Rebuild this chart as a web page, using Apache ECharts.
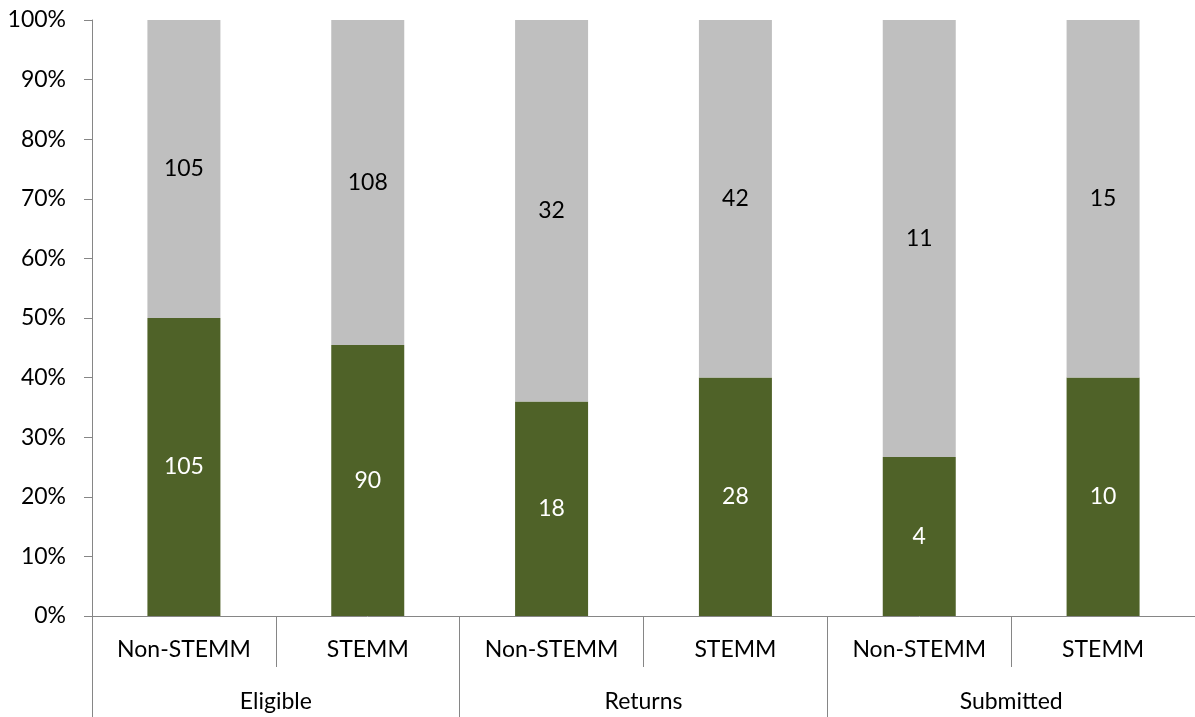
<!DOCTYPE html>
<html>
<head>
<meta charset="utf-8">
<script src="https://cdn.jsdelivr.net/npm/echarts@6/dist/echarts.min.js"></script>
<style>html,body{margin:0;padding:0;background:#fff;}#c{width:1195px;height:717px;}</style>
</head>
<body>
<div id="c"></div>
<script>
const subCategories = ['Non-STEMM','STEMM','Non-STEMM','STEMM','Non-STEMM','STEMM'];
const groupCategories = ['Eligible','Returns','Submitted'];
const greenCounts = [105, 90, 18, 28, 4, 10];
const grayCounts = [105, 108, 32, 42, 11, 15];
const yTicks = [0,10,20,30,40,50,60,70,80,90,100];

const FONT = 'Lato, "Open Sans", sans-serif';
const FS = 23;
const totals = greenCounts.map((g,i)=>g+grayCounts[i]);
const greenPct = greenCounts.map((g,i)=>({value:g/totals[i]*100, count:g}));
const grayPct = grayCounts.map((g,i)=>({value:g/totals[i]*100, count:g}));
const axisColor = '#868686';

const chart = echarts.init(document.getElementById('c'));
chart.setOption({
  animation:false,
  grid:{left:92, top:20, bottom:101, width:1107, containLabel:false},
  xAxis:[{
    type:'category', data:subCategories, position:'bottom',
    axisLine:{show:true, lineStyle:{color:axisColor, width:1}},
    axisTick:{show:true, interval:0, alignWithLabel:false, length:51, lineStyle:{color:axisColor}},
    axisLabel:{interval:0, margin:22, color:'#000', fontSize:FS, fontFamily:FONT}
  },{
    type:'category', data:groupCategories, position:'bottom',
    axisLine:{show:false},
    axisTick:{show:true, interval:0, alignWithLabel:false, length:101, lineStyle:{color:axisColor}},
    axisLabel:{interval:0, margin:74, color:'#000', fontSize:FS, fontFamily:FONT}
  }],
  yAxis:{
    type:'value', min:yTicks[0], max:yTicks[yTicks.length-1], interval:10,
    axisLine:{show:true, lineStyle:{color:axisColor}},
    axisTick:{show:true, length:8, lineStyle:{color:axisColor}},
    splitLine:{show:false},
    axisLabel:{formatter:'{value}%', color:'#000', fontSize:FS, fontFamily:FONT, margin:26}
  },
  series:[{
    type:'bar', stack:'s', data:greenPct, barWidth:73, xAxisIndex:0,
    itemStyle:{color:'#4F6228'},
    label:{show:true, position:'inside', color:'#fff', fontSize:FS, fontFamily:FONT,
      formatter:p=>p.data.count}
  },{
    type:'bar', stack:'s', data:grayPct, barWidth:73, xAxisIndex:0,
    itemStyle:{color:'#BFBFBF'},
    label:{show:true, position:'inside', color:'#000', fontSize:FS, fontFamily:FONT,
      formatter:p=>p.data.count}
  }]
});
</script>
</body>
</html>
